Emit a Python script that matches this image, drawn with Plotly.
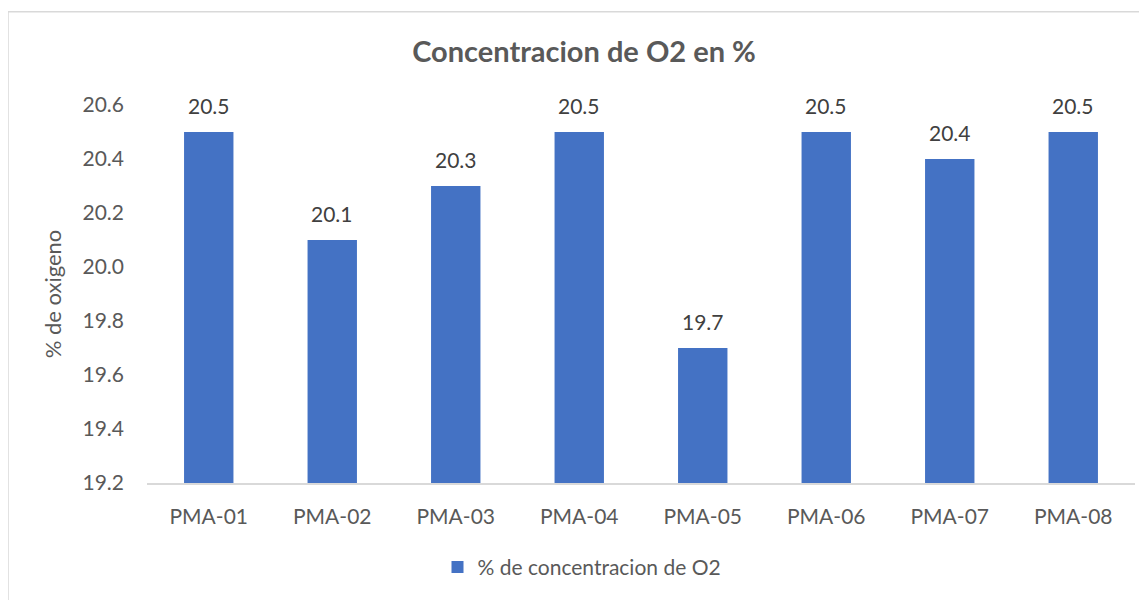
import plotly.graph_objects as go

categories = ["PMA-01", "PMA-02", "PMA-03", "PMA-04", "PMA-05", "PMA-06", "PMA-07", "PMA-08"]
values = [20.5, 20.1, 20.3, 20.5, 19.7, 20.5, 20.4, 20.5]
series_name = "% de concentracion de O2"
y_ticks = [19.2, 19.4, 19.6, 19.8, 20.0, 20.2, 20.4, 20.6]

OFF = 8  # default page body margin
W, H = 1147 - OFF, 600 - OFF
L, R, T, B = 147 - OFF, 12, 105 - OFF, 600 - 486
pw, ph = W - L - R, H - T - B

def px(x):
    return (x - OFF - L) / pw

def py(y):
    return (H - B - (y - OFF)) / ph

FONT = "Lato, Carlito, Calibri, sans-serif"
GREY = "#595959"

fig = go.Figure(go.Bar(
    x=categories, y=values, name=series_name,
    marker=dict(color="#4472C4", line=dict(width=0)),
    cliponaxis=False,
))

annotations = [
    dict(x=c, y=v, xref="x", yref="y", text=f"{v:.1f}", showarrow=False,
         yshift=27, yanchor="middle", font=dict(size=21, color="#404040", family=FONT))
    for c, v in zip(categories, values)
]

fig.update_layout(
    width=W, height=H,
    margin=dict(l=L, r=R, t=T, b=B),
    paper_bgcolor="white", plot_bgcolor="white",
    bargap=0.6,
    font=dict(family=FONT, color=GREY, size=21),
    title=dict(text="<b>Concentracion de O2 en %</b>", xref="container", yref="container",
               x=(584 - OFF) / W, xanchor="center",
               y=1 - (52 - OFF) / H, yanchor="middle", font=dict(size=29, color=GREY, family=FONT)),
    showlegend=True,
    legend=dict(orientation="h", x=px(582), xanchor="center", y=py(571), yanchor="middle",
                font=dict(size=21, color=GREY, family=FONT)),
    yaxis=dict(range=[19.2, 20.6], tickvals=y_ticks, ticktext=[f"{t:.1f}" for t in y_ticks],
               showgrid=False, zeroline=False, showline=False, ticklabelstandoff=22,
               tickfont=dict(size=21, color=GREY),
               title=dict(text="% de oxigeno", standoff=14, font=dict(size=22, color=GREY))),
    xaxis=dict(showgrid=False, showline=True, linecolor="#D9D9D9", linewidth=1.5,
               ticklabelstandoff=14, tickfont=dict(size=21, color=GREY)),
    annotations=annotations,
    shapes=[dict(type="rect", xref="paper", yref="paper",
                 x0=px(8), y0=py(620), x1=px(1160), y1=py(11),
                 line=dict(color="#D9D9D9", width=1.5), fillcolor="rgba(0,0,0,0)", layer="below")],
)

fig.write_html("out.html")
